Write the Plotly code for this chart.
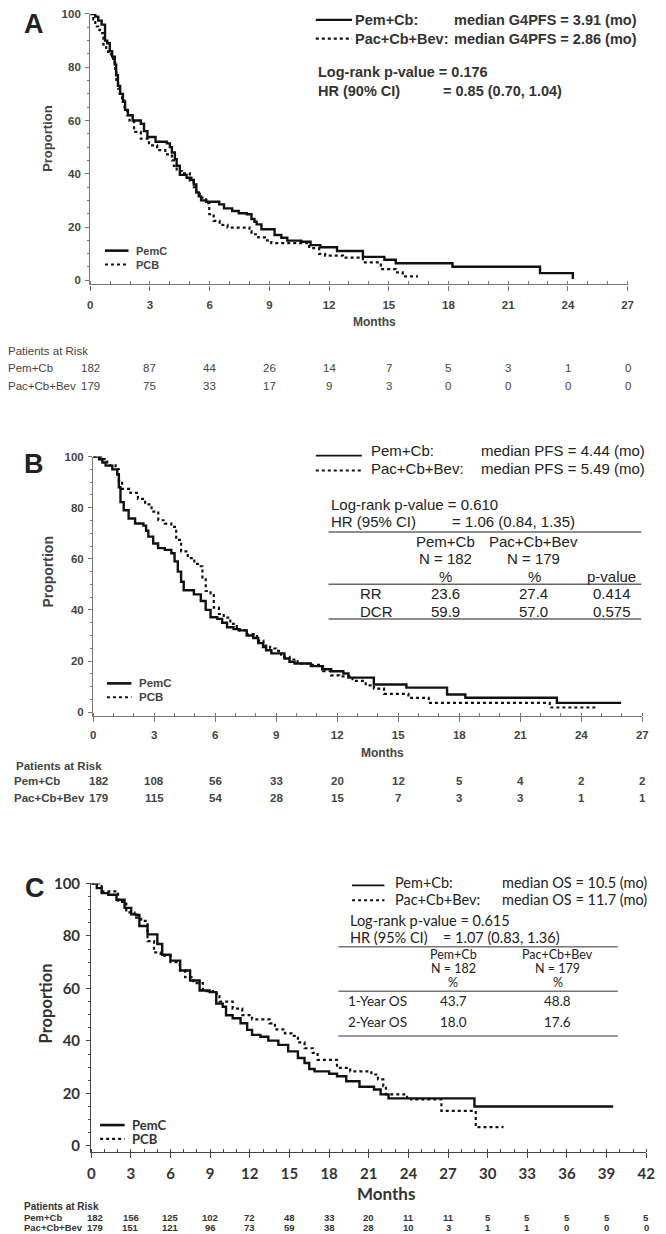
import plotly.graph_objects as go

W, H = 666, 1234
def px(x): return x / W
def py(y): return 1 - y / H

# ---------------- data ----------------
# Panel A: G4PFS
a_pem_t = [0, 0.25, 0.4, 0.57, 0.74, 0.85, 0.98, 1.1, 1.23, 1.3, 1.39, 1.5, 1.64, 1.75, 1.89, 2.13, 2.54, 2.7, 2.87, 3.28, 3.85, 4.0, 4.1, 4.25, 4.34, 4.5, 4.84, 5.08, 5.2, 5.33, 5.45, 5.57, 5.82, 6.48, 6.72, 7.13, 7.46, 7.87, 8.1, 8.25, 8.36, 8.6, 9.26, 9.6, 9.9, 10.6, 11.07, 11.56, 12.4, 13.7, 14.78, 15.35, 18.2, 22.6, 24.25]
a_pem_s = [100, 99, 97.5, 96, 90, 89, 86, 84, 81, 77, 73, 70, 67, 64, 62, 60, 58.8, 56, 53.8, 52, 51.4, 50, 48, 45.5, 43, 39.6, 38.5, 37.7, 36, 33, 31.5, 30, 29.5, 28.5, 27, 26, 25.2, 24.8, 23, 22, 21, 19.2, 17, 16, 14.9, 14.5, 13.2, 12.4, 11.0, 8.8, 7.7, 6.4, 5.1, 2.7, 0.5]
a_pcb_t = [0, 0.15, 0.25, 0.4, 0.49, 0.66, 0.8, 0.9, 1.15, 1.25, 1.31, 1.4, 1.48, 1.6, 1.72, 1.85, 1.97, 2.2, 2.54, 2.95, 3.36, 3.77, 4.1, 4.2, 4.34, 4.6, 5.0, 5.2, 5.33, 5.5, 5.82, 5.98, 6.2, 6.5, 6.9, 8.0, 8.1, 8.44, 8.77, 9.1, 11.0, 11.5, 11.8, 12.7, 13.7, 14.6, 15.35, 15.7, 16.47]
a_pcb_s = [100, 98, 95.3, 94, 92.8, 88.5, 86, 84.8, 81.7, 78, 74, 72, 70, 67.5, 65, 62, 60, 55.7, 53.2, 50.7, 48.9, 47.3, 45, 43, 41, 40.2, 37, 35, 33, 31, 29, 24.8, 22.3, 20.8, 19.8, 18.5, 17.3, 16.1, 15, 14, 12.1, 9.9, 9.3, 8.5, 6.7, 4.2, 3.0, 1.5, 1.5]

# Panel B: PFS
b_pem_t = [0, 0.29, 0.45, 0.61, 0.94, 1.18, 1.26, 1.34, 1.5, 1.74, 2.06, 2.47, 2.6, 2.71, 2.95, 3.19, 3.52, 3.84, 4.0, 4.16, 4.32, 4.45, 4.95, 5.29, 5.53, 5.77, 6.1, 6.34, 6.58, 6.9, 7.2, 7.55, 7.87, 8.11, 8.35, 8.5, 8.76, 9.4, 9.65, 9.9, 10.7, 11.26, 11.7, 12.3, 12.55, 13.8, 15.4, 17.4, 18.3, 22.8, 25.96]
b_pem_s = [100, 99, 97.7, 96.5, 95, 93, 88, 82.2, 79, 75.8, 73.8, 73, 71, 68.7, 66, 64.2, 63.5, 62.2, 59, 55, 51, 47.7, 46.1, 43.5, 40, 37.1, 36.5, 35, 33.2, 32.5, 32, 30, 29, 27, 25.5, 24.2, 23, 21, 19.7, 19, 18, 16.8, 16, 15.1, 13.5, 10.8, 9.6, 6.9, 5.6, 3.6, 3.6]
b_pcb_t = [0, 0.3, 0.45, 0.69, 1.1, 1.26, 1.42, 1.83, 2.2, 2.55, 2.87, 3.2, 3.52, 3.84, 4.08, 4.32, 4.65, 4.97, 5.21, 5.37, 5.53, 5.77, 5.93, 6.18, 6.42, 6.74, 7.06, 7.55, 8.05, 8.37, 8.7, 9.0, 9.24, 9.65, 10.05, 10.6, 11.1, 11.3, 11.7, 12.1, 12.75, 13.4, 13.8, 14.3, 15.5, 16.5, 22.45, 24.8]
b_pcb_s = [100, 100, 99, 96.6, 95, 90.6, 87.4, 85.8, 83.5, 81.3, 78.5, 75.1, 73.8, 72.5, 67.4, 62.9, 60.3, 58, 57.1, 52, 47.4, 46.5, 40.9, 38.4, 37, 34.5, 32, 30.5, 28, 26, 24.9, 24, 21.6, 20.6, 19, 18.5, 18, 16, 14.4, 14, 12.2, 10.5, 9.2, 7.1, 5.6, 3.6, 1.8, 1.8]

# Panel C: OS
c_pem_t = [0, 0.42, 0.79, 1.29, 1.91, 2.52, 3.02, 3.4, 3.64, 4.26, 5.0, 5.37, 5.99, 6.73, 7.48, 8.2, 8.96, 9.46, 9.95, 10.2, 10.7, 11.3, 11.8, 12.17, 12.8, 13.4, 14.16, 14.9, 15.64, 16.14, 16.5, 16.9, 18.0, 18.6, 19.3, 20.3, 21.4, 21.9, 22.5, 29.0, 39.5]
c_pem_s = [100, 98.2, 96.3, 95.7, 93.8, 90.7, 88.2, 88, 83.8, 80.6, 76.9, 72.8, 70.6, 66.8, 63, 59.2, 58.6, 54.2, 53, 49.8, 48.6, 46.7, 44.2, 42.3, 41.6, 40.1, 38.5, 36, 33.5, 31.6, 29.3, 28.4, 27.5, 26.5, 24.6, 22.5, 21.5, 19.6, 18.1, 15.0, 15.0]
c_pcb_t = [0, 0.79, 2.03, 2.65, 3.27, 3.77, 4.26, 4.75, 5.25, 6.0, 6.7, 7.1, 7.73, 8.45, 9.2, 9.7, 10.7, 11.43, 12.17, 13.5, 13.9, 14.66, 15.15, 15.64, 16.14, 16.76, 17.13, 18.6, 19.6, 21.2, 21.7, 22.1, 22.3, 23.9, 24.2, 26.5, 29.1, 31.2]
c_pcb_s = [100, 97, 93, 89, 87, 85.7, 78, 73.7, 72.5, 70, 67, 64.3, 62, 59, 58, 55, 52.3, 49.8, 48.2, 46.7, 44.4, 42.9, 41.9, 39.4, 37.2, 35.4, 32.8, 29.7, 28.4, 27.2, 25.3, 22.8, 19.6, 18.4, 17.7, 13.3, 7.1, 7.1]

# Patients at risk
a_risk_months = [0, 3, 6, 9, 12, 15, 18, 21, 24, 27]
a_risk_pem = [182, 87, 44, 26, 14, 7, 5, 3, 1, 0]
a_risk_pcb = [179, 75, 33, 17, 9, 3, 0, 0, 0, 0]
b_risk_months = [0, 3, 6, 9, 12, 15, 18, 21, 24, 27]
b_risk_pem = [182, 108, 56, 33, 20, 12, 5, 4, 2, 2]
b_risk_pcb = [179, 115, 54, 28, 15, 7, 3, 3, 1, 1]
c_risk_months = [0, 3, 6, 9, 12, 15, 18, 21, 24, 27, 30, 33, 36, 39, 42]
c_risk_pem = [182, 156, 125, 102, 72, 48, 33, 20, 11, 11, 5, 5, 5, 5, 5]
c_risk_pcb = [179, 151, 121, 96, 73, 59, 38, 28, 10, 3, 1, 1, 0, 0, 0]

# ---------------- figure ----------------
fig = go.Figure()
for t, s, dash, xa, ya in [
    (a_pem_t, a_pem_s, 'solid', 'x', 'y'), (a_pcb_t, a_pcb_s, 'dot', 'x', 'y'),
    (b_pem_t, b_pem_s, 'solid', 'x2', 'y2'), (b_pcb_t, b_pcb_s, 'dot', 'x2', 'y2'),
    (c_pem_t, c_pem_s, 'solid', 'x3', 'y3'), (c_pcb_t, c_pcb_s, 'dot', 'x3', 'y3')]:
    fig.add_trace(go.Scatter(x=t, y=s, mode='lines', xaxis=xa, yaxis=ya,
                             line=dict(shape='hv', color='#111', width=2.4 if dash == 'solid' else 2.2, dash=dash),
                             showlegend=False, hoverinfo='skip'))

ARIAL = "Liberation Sans, Arial, sans-serif"
NARROW = "Liberation Sans Narrow, Liberation Sans, Arial, sans-serif"
LATO = "Lato, Liberation Sans, sans-serif"

def xax(domain, rng, color, font, standoff, anchor):
    return dict(domain=domain, range=rng, anchor=anchor, showline=True, linecolor=color, linewidth=1.4,
                showgrid=False, zeroline=False, tickmode='linear', tick0=0, dtick=3,
                ticks='outside', ticklen=5, tickwidth=1.2, tickcolor=color,
                minor=dict(dtick=1, ticks='inside', ticklen=3, tickwidth=1, tickcolor=color),
                tickfont=font, ticklabelstandoff=standoff)

def yax(domain, rng, color, font, standoff, anchor):
    return dict(domain=domain, range=rng, anchor=anchor, showline=True, linecolor=color, linewidth=1.4,
                showgrid=False, zeroline=False, tickmode='linear', tick0=0, dtick=20,
                ticks='outside', ticklen=4, tickwidth=1.2, tickcolor=color,
                minor=dict(dtick=5, ticks='outside', ticklen=2.5, tickwidth=1, tickcolor=color),
                tickfont=font, ticklabelstandoff=standoff)

fa = dict(family=NARROW, size=11.5, color='#444', weight='bold')
fc = dict(family=LATO, size=15, color='#333', weight='bold')

fig.update_layout(
    width=W, height=H, margin=dict(l=0, r=0, t=0, b=0),
    paper_bgcolor='white', plot_bgcolor='white', showlegend=False,
    xaxis=xax([px(88), px(636)], [0, 27], '#777', fa, 5, 'y'),
    yaxis=yax([py(277), py(4)], [-1.5, 100.01], '#777', fa, 2, 'x'),
    xaxis2=xax([px(91), px(651)], [0, 27], '#777', fa, 3, 'y2'),
    yaxis2=yax([py(713), py(451)], [-1.55, 100.01], '#777', fa, 2, 'x2'),
    xaxis3=xax([px(89), px(655)], [0, 42], '#444', fc, 3, 'y3'),
    yaxis3=yax([py(1153), py(882)], [-2.26, 100.01], '#444', fc, 3, 'x3'),
)

anns = []
shapes = []

def T(text, x, y, size, family=ARIAL, weight='bold', anchor='left', color='#333', angle=0, xref='paper', xshift=0):
    anns.append(dict(text=text, x=(px(x) if xref == 'paper' else x), y=py(y), xref=xref, yref='paper',
                     xanchor=anchor, yanchor='middle', showarrow=False, textangle=angle, xshift=xshift,
                     font=dict(family=family, size=size, color=color, weight=weight)))

def L(x0, x1, y, dash='solid', width=2.2, color='#111'):
    shapes.append(dict(type='line', xref='paper', yref='paper', x0=px(x0), x1=px(x1), y0=py(y), y1=py(y),
                       line=dict(color=color, width=width, dash=dash)))

# ---- Panel A ----
T("A", 31, 14, 27, weight='bold', color='#222', anchor='center')
L(318, 355, 10); L(318, 355, 29, dash='dot')
T("Pem+Cb:", 356, 10, 14.5); T("median G4PFS = 3.91 (mo)", 457, 10, 14.5)
T("Pac+Cb+Bev:", 356, 29, 14.5); T("median G4PFS = 2.86 (mo)", 457, 29, 14.5)
T("Log-rank p-value = 0.176", 318, 63, 14.5)
T("HR (90% CI)", 318, 82, 14.5); T("= 0.85 (0.70, 1.04)", 446, 82, 14.5)
T("Proportion", 45, 130, 13, angle=-90, anchor='center', color='#444')
T("Months", 378, 315, 12, anchor='center', color='#444')
L(103, 127, 243, width=2.6); L(103, 127, 257, dash='dot', width=2.2)
T("PemC", 133, 243, 11, family=NARROW, color='#444'); T("PCB", 133, 257, 11, family=NARROW, color='#444')
T("Patients at Risk", 2, 344, 11.5, family=NARROW, weight='normal', color='#444')
T("Pem+Cb", 2, 362, 11.5, family=NARROW, weight='normal', color='#444')
T("Pac+Cb+Bev", 2, 380, 11.5, family=NARROW, weight='normal', color='#444')
for m, v1, v2 in zip(a_risk_months, a_risk_pem, a_risk_pcb):
    T(str(v1), m, 362, 11.5, family=NARROW, weight='normal', anchor='center', color='#444', xref='x')
    T(str(v2), m, 380, 11.5, family=NARROW, weight='normal', anchor='center', color='#444', xref='x')

# ---- Panel B ----
T("B", 31, 458, 27, weight='bold', color='#222', anchor='center')
L(318, 365, 450, width=1.8); L(318, 365, 465, dash='dot', width=1.8)
T("Pem+Cb:", 372, 445, 15, weight='normal', color='#222'); T("median PFS = 4.44 (mo)", 484, 445, 15, weight='normal', color='#222')
T("Pac+Cb+Bev:", 372, 463, 15, weight='normal', color='#222'); T("median PFS = 5.49 (mo)", 484, 463, 15, weight='normal', color='#222')
T("Log-rank p-value = 0.610", 331, 499, 15, weight='normal', color='#222')
T("HR (95% CI)", 331, 517, 15, weight='normal', color='#222'); T("= 1.06 (0.84, 1.35)", 455, 517, 15, weight='normal', color='#222')
for yy in (527, 580, 615):
    L(331, 650, yy, width=1.5, color='#666')
for txt, x in [("Pem+Cb", 450), ("Pac+Cb+Bev", 540)]:
    T(txt, x, 537, 15, weight='normal', anchor='center', color='#222')
for txt, x in [("N = 182", 450), ("N = 179", 540)]:
    T(txt, x, 554, 15, weight='normal', anchor='center', color='#222')
for txt, x in [("%", 450), ("%", 541), ("p-value", 620)]:
    T(txt, x, 572, 15, weight='normal', anchor='center', color='#222')
for txt, x in [("RR", 374), ("23.6", 450), ("27.4", 540), ("0.414", 620)]:
    T(txt, x, 589, 15, weight='normal', anchor='center', color='#222')
for txt, x in [("DCR", 380), ("59.9", 450), ("57.0", 540), ("0.575", 620)]:
    T(txt, x, 607, 15, weight='normal', anchor='center', color='#222')
T("Proportion", 45, 567, 14, angle=-90, anchor='center', color='#444')
T("Months", 386, 750, 12, anchor='center', color='#444')
L(105, 130, 680, width=2.6); L(105, 130, 694, dash='dot', width=2.2)
T("PemC", 136, 680, 11.5, family=NARROW, color='#444'); T("PCB", 136, 694, 11.5, family=NARROW, color='#444')
T("Patients at Risk", 10, 763, 11.5, color='#444')
T("Pem+Cb", 8, 779, 11.5, color='#444')
T("Pac+Cb+Bev", 8, 796, 11.5, color='#444')
for m, v1, v2 in zip(b_risk_months, b_risk_pem, b_risk_pcb):
    sh = 5 if m == 0 else 0
    T(str(v1), m, 779, 11.5, anchor='center', color='#444', xref='x2', xshift=sh)
    T(str(v2), m, 796, 11.5, anchor='center', color='#444', xref='x2', xshift=sh)

# ---- Panel C ----
CF = 14.5
T("C", 32, 887, 27, weight='bold', color='#222', anchor='center')
L(355, 388, 884, width=1.8); L(355, 388, 899, dash='dot', width=1.8)
T("Pem+Cb:", 397, 881, CF, family=LATO, weight='normal', color='#222')
T("median OS = 10.5 (mo)", 506, 881, CF, family=LATO, weight='normal', color='#222')
T("Pac+Cb+Bev:", 397, 898, CF, family=LATO, weight='normal', color='#222')
T("median OS = 11.7 (mo)", 506, 898, CF, family=LATO, weight='normal', color='#222')
T("Log-rank p-value = 0.615", 351, 919.5, CF, family=LATO, weight='normal', color='#222')
T("HR (95% CI)", 351, 937, CF, family=LATO, weight='normal', color='#222')
T("= 1.07 (0.83, 1.36)", 446, 937, CF, family=LATO, weight='normal', color='#222')
for yy in (946, 991, 1036):
    L(341, 626, yy, width=1.5, color='#777')
TF = 12.5
for txt, x in [("Pem+Cb", 458), ("Pac+Cb+Bev", 565)]:
    T(txt, x, 954, TF, family=LATO, weight='normal', anchor='center', color='#222')
for txt, x in [("N = 182", 458), ("N = 179", 565)]:
    T(txt, x, 968, TF, family=LATO, weight='normal', anchor='center', color='#222')
for txt, x in [("%", 458), ("%", 565)]:
    T(txt, x, 982.5, TF, family=LATO, weight='normal', anchor='center', color='#222')
T("1-Year OS", 349, 1001, 13.5, family=LATO, weight='normal', color='#222')
T("43.7", 458, 1001, 13.5, family=LATO, weight='normal', anchor='center', color='#222')
T("48.8", 565, 1001, 13.5, family=LATO, weight='normal', anchor='center', color='#222')
T("2-Year OS", 349, 1022, 13.5, family=LATO, weight='normal', color='#222')
T("18.0", 458, 1022, 13.5, family=LATO, weight='normal', anchor='center', color='#222')
T("17.6", 565, 1022, 13.5, family=LATO, weight='normal', anchor='center', color='#222')
T("Proportion", 43, 1003, 16.5, family=LATO, angle=-90, anchor='center', color='#333')
T("Months", 390, 1195, 17, family=LATO, anchor='center', color='#333')
L(98, 123, 1126, width=2.6); L(98, 123, 1140, dash='dot', width=2.2)
T("PemC", 128, 1126, 13, family=LATO, color='#333'); T("PCB", 128, 1140, 13, family=LATO, color='#333')
T("Patients at Risk", 18, 1208, 10, color='#333')
T("Pem+Cb", 18, 1219, 9.5, color='#333')
T("Pac+Cb+Bev", 18, 1229, 9.5, color='#333')
for m, v1, v2 in zip(c_risk_months, c_risk_pem, c_risk_pcb):
    sh = 4 if m == 0 else 0
    T(str(v1), m, 1219, 9.5, anchor='center', color='#333', xref='x3', xshift=sh)
    T(str(v2), m, 1229, 9.5, anchor='center', color='#333', xref='x3', xshift=sh)

fig.update_layout(annotations=anns, shapes=shapes)
fig.write_html("out.html", config={'displayModeBar': False},
               post_script="document.body.style.margin='0px';")
